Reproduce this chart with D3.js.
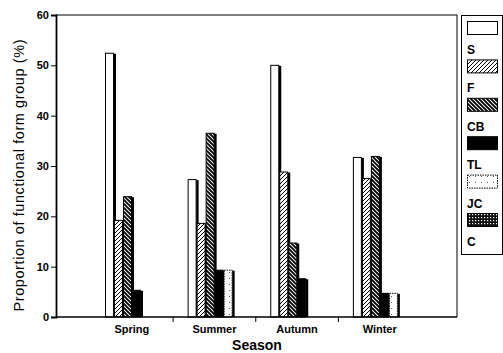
<!DOCTYPE html>
<html>
<head>
<meta charset="utf-8">
<script src="https://cdn.jsdelivr.net/npm/d3@7"></script>
<style>
  html, body { margin: 0; padding: 0; background: #fff; }
  svg { display: block; font-family: "Liberation Sans", Arial, sans-serif; }
</style>
</head>
<body>
<svg id="chart" width="503" height="353"></svg>
<script>
// Seasonal proportions of each functional form group (%)
const seasons = ["Spring", "Summer", "Autumn", "Winter"];
const groups = ["S", "F", "CB", "TL", "JC", "C"];
const valS  = [52.5, 27.4, 50.1, 31.8];
const valF  = [19.3, 18.7, 28.9, 27.6];
const valCB = [24.0, 36.6, 14.8, 32.0];
const valTL = [5.4, 9.4, 7.7, 4.8];
const valJC = [0, 9.4, 0, 4.8];
const valC  = [0, 0, 0, 0];
const yTicks = [0, 10, 20, 30, 40, 50, 60];

const seriesValues = { S: valS, F: valF, CB: valCB, TL: valTL, JC: valJC, C: valC };

const svg = d3.select("#chart");
const defs = svg.append("defs");

// Fill patterns for the groups
function hatch(id, dir, sw, gap) {
  const p = defs.append("pattern").attr("id", id)
    .attr("patternUnits", "userSpaceOnUse").attr("width", gap).attr("height", gap);
  p.append("rect").attr("width", gap).attr("height", gap).attr("fill", "#fff");
  const d = dir > 0
    ? `M0,${gap} L${gap},0 M${-gap / 2},${gap / 2} L${gap / 2},${-gap / 2} M${gap / 2},${gap * 1.5} L${gap * 1.5},${gap / 2}`
    : `M0,0 L${gap},${gap} M${-gap / 2},${gap / 2} L${gap / 2},${gap * 1.5} M${gap / 2},${-gap / 2} L${gap * 1.5},${gap / 2}`;
  p.append("path").attr("d", d).attr("stroke", "#000").attr("stroke-width", sw);
}
hatch("patF", 1, 1, 4);
hatch("patCB", -1, 1.9, 4);

const pJC = defs.append("pattern").attr("id", "patJC")
  .attr("patternUnits", "userSpaceOnUse").attr("width", 6).attr("height", 6);
pJC.append("rect").attr("width", 6).attr("height", 6).attr("fill", "#fff");
pJC.append("rect").attr("x", 1).attr("y", 2).attr("width", 1).attr("height", 1).attr("fill", "#666");

const pC = defs.append("pattern").attr("id", "patC")
  .attr("patternUnits", "userSpaceOnUse").attr("width", 3).attr("height", 3);
pC.append("rect").attr("width", 3).attr("height", 3).attr("fill", "#111");
pC.append("rect").attr("x", 1).attr("y", 1).attr("width", 1.2).attr("height", 1.2).attr("fill", "#fff");

const fills = { S: "#fff", F: "url(#patF)", CB: "url(#patCB)", TL: "#000", JC: "url(#patJC)", C: "url(#patC)" };

// Plot frame
const plot = { left: 56, right: 457, top: 15, bottom: 317 };

const y = d3.scaleLinear().domain([0, 60]).range([plot.bottom, plot.top]);
const x0 = d3.scaleBand().domain(seasons).range([90.5, 421]).padding(0);
const x1 = d3.scaleBand().domain(groups).range([14.5, 14.5 + 54]).padding(0);

// Frame lines (top and right)
svg.append("path")
  .attr("d", `M${plot.left},${plot.top} L${plot.right},${plot.top} L${plot.right},${plot.bottom}`)
  .attr("fill", "none").attr("stroke", "#000").attr("stroke-width", 1);

// Bars, with a dark drop shadow on the right side
const rows = [];
groups.forEach(g => seasons.forEach((s, i) => rows.push({ g, s, v: seriesValues[g][i] })));

const barG = svg.append("g");
rows.forEach(d => {
  if (d.v <= 0) return;
  const bx = x0(d.s) + x1(d.g);
  const bw = x1.bandwidth();
  const top = y(d.v);
  barG.append("rect")
    .attr("x", bx + bw - 0.5).attr("y", top + 1)
    .attr("width", 2.5).attr("height", plot.bottom - top - 1)
    .attr("fill", "#000");
  barG.append("rect")
    .attr("x", bx + 0.5).attr("y", top + 0.5)
    .attr("width", bw - 1).attr("height", plot.bottom - top - 0.5)
    .attr("fill", fills[d.g])
    .attr("stroke", "#000").attr("stroke-width", 1)
    .attr("stroke-dasharray", d.g === "JC" ? "1.5,1" : null);
});

// Y axis
const yAxis = svg.append("g").attr("transform", `translate(${plot.left},0)`)
  .call(d3.axisLeft(y).tickValues(yTicks).tickSize(5).tickPadding(2));
yAxis.select(".domain").attr("stroke-width", 1.8);
yAxis.selectAll("text").attr("font-size", 11).attr("font-weight", "bold").attr("fill", "#000");

// X axis: baseline with ticks between seasons
svg.append("line")
  .attr("x1", plot.left).attr("x2", plot.right)
  .attr("y1", plot.bottom).attr("y2", plot.bottom)
  .attr("stroke", "#000").attr("stroke-width", 1.5);
seasons.slice(1).forEach(s => {
  svg.append("line")
    .attr("x1", x0(s)).attr("x2", x0(s))
    .attr("y1", plot.bottom).attr("y2", plot.bottom + 5)
    .attr("stroke", "#000").attr("stroke-width", 1);
});
svg.append("g").selectAll("text").data(seasons).join("text")
  .attr("x", d => x0(d) + x0.bandwidth() / 2)
  .attr("y", 333)
  .attr("text-anchor", "middle")
  .attr("font-size", 11).attr("font-weight", "bold")
  .text(d => d);

// Axis titles
svg.append("text")
  .attr("x", 257).attr("y", 350)
  .attr("text-anchor", "middle")
  .attr("font-size", 14).attr("font-weight", "bold")
  .text("Season");

svg.append("text")
  .attr("transform", "translate(24,175.5) rotate(-90)")
  .attr("text-anchor", "middle")
  .attr("font-size", 14.5)
  .attr("textLength", 272)
  .attr("lengthAdjust", "spacing")
  .text("Proportion of functional form group (%)");

// Legend
const leg = svg.append("g");
leg.append("rect")
  .attr("x", 461.5).attr("y", 15.5).attr("width", 41).attr("height", 239)
  .attr("fill", "#fff").attr("stroke", "#000").attr("stroke-width", 1);
groups.forEach((g, i) => {
  const ty = 21 + i * 38.4;
  leg.append("rect")
    .attr("x", 467.5).attr("y", ty + 0.5).attr("width", 30).attr("height", 13)
    .attr("fill", fills[g]).attr("stroke", "#000").attr("stroke-width", 1)
    .attr("stroke-dasharray", g === "JC" ? "1.5,1" : null);
  leg.append("text")
    .attr("x", 467).attr("y", ty + 33)
    .attr("font-size", 12).attr("font-weight", "bold")
    .text(g);
});
</script>
</body>
</html>
